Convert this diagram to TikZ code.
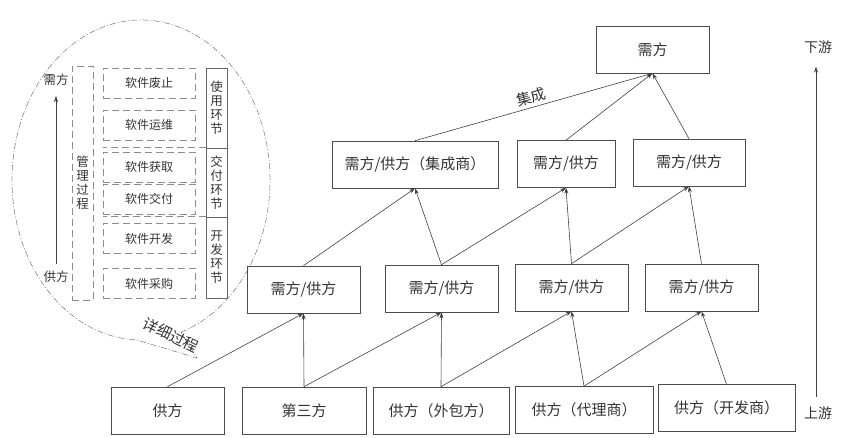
\documentclass[tikz,border=0pt]{standalone}
\usepackage{fontspec}
\setmainfont{Noto Sans CJK SC}
\usetikzlibrary{arrows.meta}

\begin{document}
\begin{tikzpicture}[x=1pt,y=1pt,
  box/.style={draw=black!70, line width=0.6pt, minimum height=47pt, inner sep=2pt,
    font=\fontsize{15}{18}\selectfont, text=black!80},
  softbox/.style={draw=black!45, dash pattern=on 7pt off 4pt, line width=0.6pt,
    minimum width=92pt, minimum height=30pt, inner sep=0pt,
    font=\fontsize{12}{14}\selectfont, text=black!80},
  stagebox/.style={draw=black!60, line width=0.6pt, minimum width=21pt, inner sep=0pt,
    align=center, font=\fontsize{12.5}{14}\selectfont, text=black!80},
  sepline/.style={draw=black!45, dash pattern=on 7pt off 4pt, line width=0.6pt},
  flow/.style={draw=black!75, line width=0.6pt, -{Stealth[length=6pt,width=4pt]}},
  lbl/.style={font=\fontsize{13}{15}\selectfont, text=black!80, inner sep=1pt}
]
\useasboundingbox (0,0) rectangle (844,-438);

% detail callout
\draw[black!55, line width=0.5pt, dash pattern=on 6pt off 2pt on 1pt off 2pt]
  (141,-180) ++(-72:129pt and 160pt)
  arc[start angle=-72, end angle=268, x radius=129pt, y radius=160pt]
  -- (197,-358) -- cycle;
\node[lbl, font=\fontsize{15}{17}\selectfont, rotate=-26] (xxgc) at (171,-335) {详细过程};

\node[lbl, font=\fontsize{12.5}{14}\selectfont] (xfl) at (56,-80) {需方};
\node[lbl, font=\fontsize{12.5}{14}\selectfont] (gfl) at (56,-277) {供方};
\draw[flow, shorten <=6pt, shorten >=9pt] (gfl) -- (xfl);

\node[stagebox, draw=black!45, dash pattern=on 7pt off 4pt, minimum height=234pt] (glgc) at (82.5,-183) {管\\理\\过\\程};

\node[softbox] (fz) at (149,-83) {软件废止};
\node[softbox] (yw) at (149,-125) {软件运维};
\node[softbox] (hq) at (149,-167) {软件获取};
\node[softbox] (jf) at (149,-199) {软件交付};
\node[softbox] (kf) at (149,-238.5) {软件开发};
\node[softbox] (cg) at (149,-283.5) {软件采购};

\node[stagebox, minimum height=80pt] (syhj) at (216.5,-108) {使\\用\\环\\节};
\node[stagebox, minimum height=69pt] (jfhj) at (216.5,-182.5) {交\\付\\环\\节};
\node[stagebox, minimum height=81pt] (kfhj) at (216.5,-257.5) {开\\发\\环\\节};

\draw[sepline] (jfhj.north west) -- (jfhj.north west -| hq.west);
\draw[sepline] (kfhj.north west) -- (kfhj.north west -| jf.west);

% supply chain
\node[box, minimum width=113pt] (gf) at (167.5,-410.5) {供方};
\node[box, minimum width=124pt] (dsf) at (304,-410.5) {第三方};
\node[box, minimum width=136pt] (wbf) at (441,-410.5) {供方（外包方）};
\node[box, minimum width=138pt] (dls) at (584,-410) {供方（代理商）};
\node[box, minimum width=137pt] (kfs) at (726.5,-408) {供方（开发商）};

\node[box, minimum width=113pt] (m1) at (303.5,-289.5) {需方/供方};
\node[box, minimum width=113pt] (m2) at (441.5,-288.5) {需方/供方};
\node[box, minimum width=113pt] (m3) at (571.5,-287.5) {需方/供方};
\node[box, minimum width=113pt] (m4) at (701.5,-287.5) {需方/供方};

\node[box, minimum width=166pt] (jcs) at (415,-164.5) {需方/供方（集成商）};
\node[box, minimum width=98pt] (u2) at (566,-164) {需方/供方};
\node[box, minimum width=112pt] (u3) at (689,-162.5) {需方/供方};

\node[box, minimum width=113pt] (xf) at (652.5,-49.5) {需方};

\foreach \a/\b in {gf/m1, dsf/m1, dsf/m2, wbf/m2, wbf/m3, dls/m3, dls/m4, kfs/m4,
    m1/jcs, m2/jcs, m2/u2, m3/u2, m3/u3, m4/u3, u2/xf, u3/xf}
  \draw[flow] (\a.north) -- (\b.south);
\draw[flow] (jcs.north) -- node[sloped, above, lbl, font=\fontsize{15}{17}\selectfont, inner sep=3pt] {集成} (xf.south);

% up/down stream
\node[lbl, font=\fontsize{14}{16}\selectfont] (xy) at (818,-47) {下游};
\node[lbl, font=\fontsize{14}{16}\selectfont] (sy) at (818,-413) {上游};
\draw[flow, shorten <=8pt, shorten >=12pt] ([xshift=-2pt]sy.north) -- ([xshift=-2pt]xy.south);
\end{tikzpicture}
\end{document}
